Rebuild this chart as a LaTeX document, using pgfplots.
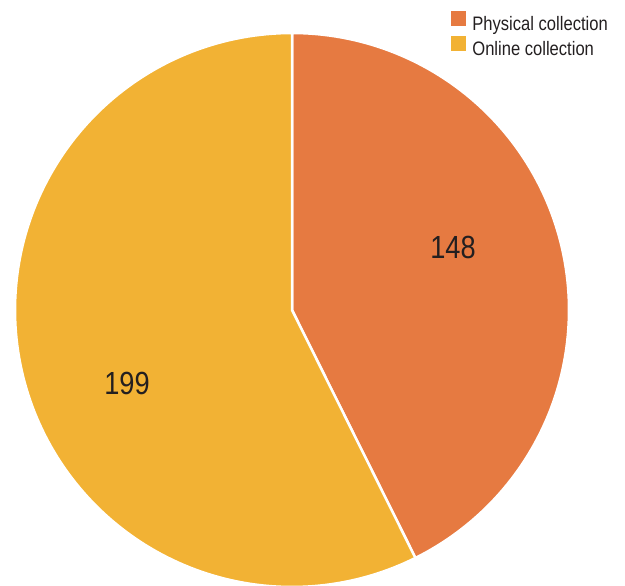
\documentclass[border=0pt]{standalone}
\usepackage{pgfplots}
\pgfplotsset{compat=1.18}
\usepackage{fontspec}
\setmainfont{Liberation Sans}[FakeStretch=0.85]
\definecolor{physc}{HTML}{E67A41}
\definecolor{onlc}{HTML}{F2B234}
\definecolor{txt}{HTML}{231F20}
\begin{document}
\begin{tikzpicture}
\def\vA{148}
\def\vB{199}
\pgfmathsetmacro\fracA{\vA/(\vA+\vB)}
\pgfmathsetmacro\angA{90-360*\fracA}
\pgfmathsetmacro\angB{\angA+360}
\path[use as bounding box] (0,0) rectangle (625pt,586pt);
\begin{axis}[at={(0,0)}, anchor=south west, scale only axis,
  width=625pt, height=586pt, xmin=0, xmax=625, ymin=0, ymax=586,
  hide axis, clip=true,
  legend cell align=left,
  legend style={draw=none, fill=none, at={(axis cs:611,577)}, anchor=north east,
    font=\fontsize{19.5}{22}\selectfont\color{txt}, row sep=2pt,
    nodes={inner sep=0pt, text height=14pt, text depth=4pt},
    /tikz/every odd column/.append style={column sep=6pt}},
  legend image code/.code={\fill[#1,draw=none] (0pt,-1pt) rectangle (15pt,14pt);},
]
\addplot[fill=physc, draw=white, line width=2.5pt, line join=round, domain=\angA:90, samples=120]
  ({292+277*cos(x)},{276+277*sin(x)}) -- (axis cs:292,276) -- cycle;
\addplot[fill=onlc, draw=white, line width=2.5pt, line join=round, domain=90:\angB, samples=160]
  ({292+277*cos(x)},{276+277*sin(x)}) -- (axis cs:292,276) -- cycle;
\legend{Physical collection, Online collection}
\node[text=txt, font=\fontsize{32}{36}\selectfont] at (axis cs:453,339) {148};
\node[text=txt, font=\fontsize{32}{36}\selectfont] at (axis cs:127,203) {199};
\end{axis}
\end{tikzpicture}
\end{document}
